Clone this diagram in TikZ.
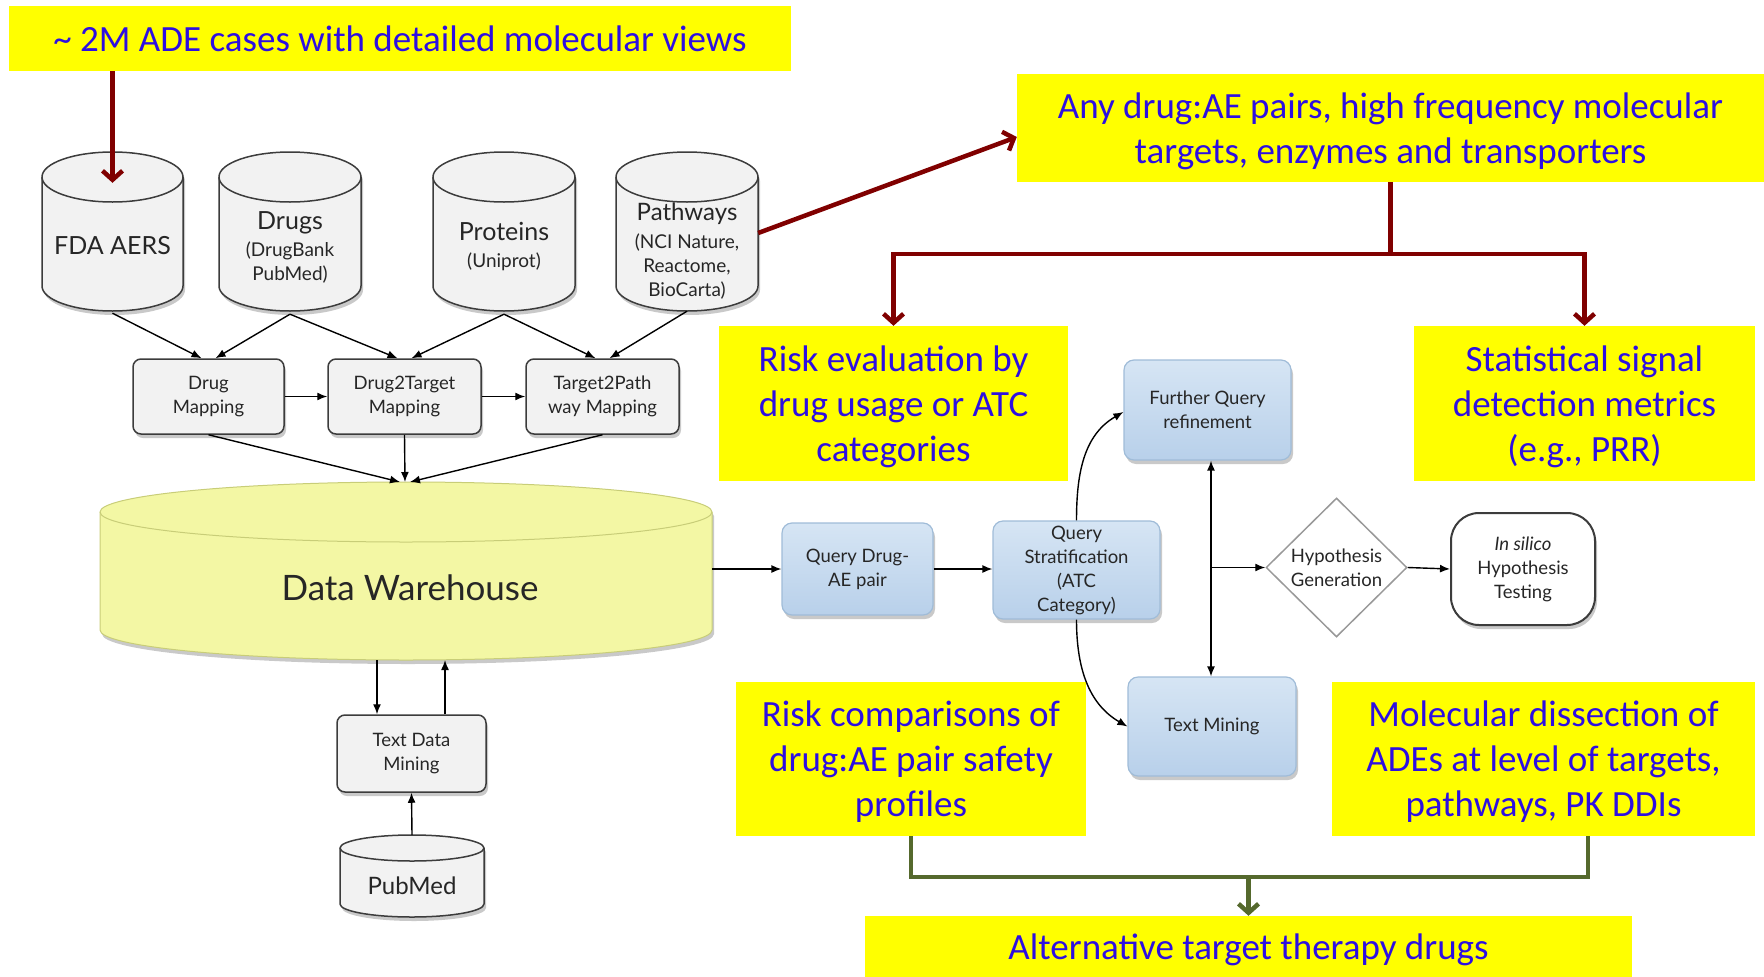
\documentclass[tikz,border=0pt]{standalone}
\usepackage{fontspec}
\setmainfont{Carlito}
\newfontfamily\dfont{Lato}
\usetikzlibrary{arrows.meta,shapes.geometric,shadows}
\definecolor{ybox}{RGB}{255,255,0}
\definecolor{ytext}{RGB}{45,15,225}
\definecolor{dkred}{RGB}{128,0,0}
\definecolor{olivegr}{RGB}{85,105,45}
\definecolor{gfill}{RGB}{242,242,242}
\definecolor{gdraw}{RGB}{60,60,60}
\definecolor{bfillA}{RGB}{214,229,244}
\definecolor{bfillB}{RGB}{184,208,234}
\definecolor{bdraw}{RGB}{160,188,216}
\definecolor{dwfill}{RGB}{243,247,164}
\definecolor{dwdraw}{RGB}{200,205,120}
\newcommand{\dbcyl}[7]{%
  \path[#6] (#1-#4,#2-#5) -- (#1-#4,#3+#5)
    arc[start angle=180,end angle=360,x radius=#4,y radius=#5]
    -- (#1+#4,#2-#5)
    arc[start angle=0,end angle=180,x radius=#4,y radius=#5] -- cycle;
  \draw[#7] (#1-#4,#2-#5) arc[start angle=180,end angle=360,x radius=#4,y radius=#5];
}
\tikzset{
  myshadow/.style={drop shadow={shadow xshift=2pt,shadow yshift=-4pt,opacity=.3,fill=black!70}},
  ynote/.style={fill=ybox,text=ytext,align=center,inner sep=0pt,text depth=0pt,font=\fontsize{37}{45}\selectfont},
  gcyl/.style={draw=gdraw,fill=gfill,line width=1.5pt,myshadow},
  gline/.style={draw=gdraw,line width=1.5pt},
  cyltext/.style={inner sep=0pt,align=center,text=black!85,font=\dfont\fontsize{19}{24}\selectfont},
  gbox/.style={draw=gdraw,fill=gfill,rounded corners=8pt,line width=1.5pt,inner sep=0pt,
    align=center,text=black!85,font=\dfont\fontsize{18.5}{24}\selectfont,myshadow},
  bbox/.style={draw=bdraw,top color=bfillA,bottom color=bfillB,rounded corners=10pt,line width=1.2pt,
    inner sep=0pt,align=center,text=black!85,font=\dfont\fontsize{18.5}{24}\selectfont,myshadow},
  arr/.style={line width=1.4pt,-{Latex[length=10pt,width=8pt]}},
  redarr/.style={draw=dkred,line width=4.5pt,-{Straight Barb[length=9pt,width=20pt]}},
  redline/.style={draw=dkred,line width=4.5pt},
  grnline/.style={draw=olivegr,line width=4.5pt},
  grnarr/.style={draw=olivegr,line width=4.5pt,-{Straight Barb[length=9pt,width=20pt]}},
}
\begin{document}
\begin{tikzpicture}[x=1pt,y=1pt]
\useasboundingbox (0,0) rectangle (1764,-977);
% yellow notes
\node[ynote,minimum width=782,minimum height=65] (box1) at (400,-38.5) {\textasciitilde{} 2M ADE cases with detailed molecular views};
\node[ynote,minimum width=747,minimum height=108] (box2) at (1390.5,-128) {Any drug:AE pairs, high frequency molecular\\targets, enzymes and transporters};
\node[ynote,minimum width=349,minimum height=155] (re) at (893.5,-403.5) {Risk evaluation by\\drug usage or ATC\\categories};
\node[ynote,minimum width=341,minimum height=155] (ss) at (1584.5,-403.5) {Statistical signal\\detection metrics\\(e.g., PRR)};
\node[ynote,minimum width=350,minimum height=154] (rc) at (911,-759) {Risk comparisons of\\drug:AE pair safety\\profiles};
\node[ynote,minimum width=423,minimum height=154] (md) at (1543.5,-759) {Molecular dissection of\\ADEs at level of targets,\\pathways, PK DDIs};
\node[ynote,minimum width=767,minimum height=61] (alt) at (1248.5,-946.5) {Alternative target therapy drugs};
% cylinders
\dbcyl{112.5}{-152}{-311}{70.5}{25}{gcyl}{gline}
\dbcyl{290}{-152}{-311}{71}{25}{gcyl}{gline}
\dbcyl{504}{-152}{-311}{71}{25}{gcyl}{gline}
\dbcyl{687}{-152}{-311}{71}{25}{gcyl}{gline}
\dbcyl{406}{-482}{-660}{306}{30}{draw=dwdraw,fill=dwfill,line width=1pt,myshadow}{draw=dwdraw,line width=1pt}
\dbcyl{412}{-835}{-917}{72}{13}{gcyl}{gline}
\node[cyltext,minimum width=141,minimum height=134,font=\dfont\fontsize{25}{28}\selectfont] (fda) at (112.5,-246) {FDA AERS};
\node[cyltext,minimum width=142,minimum height=134] (drugs) at (290,-247) {{\fontsize{25}{28}\selectfont Drugs}\\[3pt](DrugBank\\PubMed)};
\node[cyltext,minimum width=142,minimum height=134] (prot) at (504,-247) {{\fontsize{25}{28}\selectfont Proteins}\\[3pt](Uniprot)};
\node[cyltext,minimum width=142,minimum height=134] (pw) at (687,-251) {{\fontsize{24}{28}\selectfont Pathways}\\[4pt](NCI Nature,\\Reactome,\\BioCarta)};
\node[cyltext,minimum width=612,minimum height=148,font=\dfont\fontsize{35}{40}\selectfont] (dw) at (410,-588) {Data Warehouse};
\node[cyltext,minimum width=144,minimum height=56,font=\dfont\fontsize{24}{28}\selectfont] (pm) at (412,-886) {PubMed};
% grey boxes
\node[gbox,minimum width=151,minimum height=75] (dm) at (208.5,-396.5) {Drug\\Mapping};
\node[gbox,minimum width=153,minimum height=75] (d2t) at (404.5,-396.5) {Drug2Target\\Mapping};
\node[gbox,minimum width=153,minimum height=75] (t2p) at (602.5,-396.5) {Target2Path\\way Mapping};
\node[gbox,minimum width=149,minimum height=77] (tdm) at (411.5,-753.5) {Text Data\\Mining};
% blue boxes
\node[bbox,minimum width=151,minimum height=92] (qdae) at (857.5,-569) {Query Drug-\\AE pair};
\node[bbox,minimum width=167,minimum height=98] (qs) at (1076.5,-570) {Query\\Stratification\\(ATC\\Category)};
\node[bbox,minimum width=167,minimum height=100] (fq) at (1207.5,-410) {Further Query\\refinement};
\node[bbox,minimum width=168,minimum height=99] (tm) at (1212,-726.5) {Text Mining};
\node[diamond,draw=black!40,fill=white,line width=1.5pt,minimum width=141,minimum height=139,inner sep=0pt,
  align=center,text=black!85,font=\dfont\fontsize{18.5}{24}\selectfont] (hg) at (1336.5,-567.5) {Hypothesis\\Generation};
\node[draw=gdraw,fill=white,line width=2pt,rounded corners=28pt,minimum width=144,minimum height=112,inner sep=0pt,
  align=center,text=black!85,font=\dfont\fontsize{18.5}{24}\selectfont,myshadow] (is) at (1523,-569) {\textit{In silico}\\Hypothesis\\Testing};
% black connectors
\draw[arr] (fda.south) -- ([xshift=-7pt]dm.north);
\draw[arr] (drugs.south) -- ([xshift=7pt]dm.north);
\draw[arr] (drugs.south) -- ([xshift=-7pt]d2t.north);
\draw[arr] (prot.south) -- ([xshift=7pt]d2t.north);
\draw[arr] (prot.south) -- ([xshift=-7pt]t2p.north);
\draw[arr] ([yshift=7pt]pw.south) -- ([xshift=7pt]t2p.north);
\draw[arr] (dm.east) -- (d2t.west);
\draw[arr] (d2t.east) -- (t2p.west);
\coordinate (dwtop) at (405,-482);
\draw[arr] (dm.south) -- ([xshift=-5pt]dwtop);
\draw[arr] (d2t.south) -- (dwtop);
\draw[arr] (t2p.south) -- ([xshift=5pt]dwtop);
\draw[arr] ([xshift=-34.5pt]tdm.north |- 0,-660) -- ([xshift=-34.5pt]tdm.north);
\draw[arr] ([xshift=33.5pt]tdm.north) -- ([xshift=33.5pt]tdm.north |- 0,-660);
\draw[arr] ([yshift=23pt]pm.north) -- (tdm.south);
\draw[arr] (712,-569) -- (qdae.west);
\draw[arr] (qdae.east) -- (qdae.east -| qs.west);
\draw[arr] (qs.north) to[out=90,in=210] ([yshift=-2pt]fq.west);
\draw[arr] (qs.south) to[out=-90,in=150] (tm.west);
\coordinate (vx) at (1211,-567.5);
\draw[line width=1.4pt,{Latex[length=10pt,width=8pt]}-{Latex[length=10pt,width=8pt]}] (vx |- fq.south) -- (vx |- tm.north);
\draw[arr] (vx) -- (hg.west);
\draw[arr] (hg.east) -- (is.west);
% red connectors
\draw[redarr] (box1.south -| fda.north) -- ([yshift=-4pt]fda.north);
\draw[redarr] ([yshift=18pt]pw.east) -- ([yshift=-9pt]box2.west);
\coordinate (rj) at (1390.5,-254);
\draw[redline] (box2.south) -- (rj);
\draw[redarr] (rj) -| (re.north);
\draw[redarr] (rj) -| (ss.north);
% green connectors
\coordinate (gR) at (1588,-877);
\draw[grnline,line join=miter] (rc.south) |- (gR) -- (gR |- md.south);
\draw[grnarr] (alt.north |- gR) -- (alt.north);
\end{tikzpicture}
\end{document}
